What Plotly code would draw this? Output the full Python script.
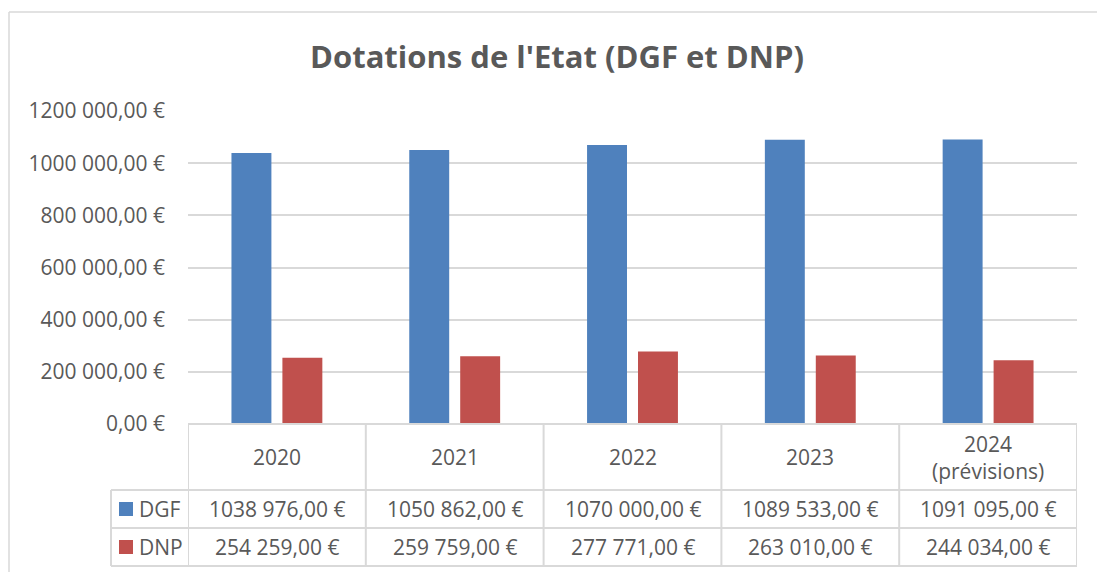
import plotly.graph_objects as go

# ---- data ----
years = ["2020", "2021", "2022", "2023", "2024"]
year_labels = ["2020", "2021", "2022", "2023", "2024<br>(prévisions)"]
series_names = ["DGF", "DNP"]
dgf = [1038976, 1050862, 1070000, 1089533, 1091095]
dnp = [254259, 259759, 277771, 263010, 244034]
y_ticks = [0, 200000, 400000, 600000, 800000, 1000000, 1200000]

# ---- style ----
colors = ["#4F81BD", "#C0504D"]
text_color = "#595959"
line_color = "#D9D9D9"
font_family = "Open Sans, Lato, sans-serif"
lab_size = 21


def fmt_eur(v):
    n = int(round(v))
    cents = int(round((v - n) * 100))
    if n >= 1000:
        s = f"{n // 1000} {n % 1000:03d}"
    else:
        s = str(n)
    return f"{s},{cents:02d} €"


W, H = 1097, 572
L, R, T, B = 188, 20, 111, 148
pw, ph = W - L - R, H - T - B


def px_x(x):  # pixel -> paper x
    return (x - L) / pw


def px_y(y):  # pixel -> paper y
    return (H - B - y) / ph


fig = go.Figure()
for name, vals, col in zip(series_names, [dgf, dnp], colors):
    fig.add_trace(go.Bar(x=years, y=vals, name=name, marker=dict(color=col, line=dict(width=0)),
                         hoverinfo="x+y"))

shapes = []
annotations = []

n = len(years)
row_top = px_y(424)
row1 = px_y(490)
row2 = px_y(528)
row3 = px_y(566)
leg_left = px_x(111)

# table horizontal lines
shapes.append(dict(type="line", xref="paper", yref="paper", x0=0, x1=1, y0=row_top, y1=row_top,
                   line=dict(color=line_color, width=2)))
for yy in [row1, row2, row3]:
    shapes.append(dict(type="line", xref="paper", yref="paper", x0=leg_left, x1=1, y0=yy, y1=yy,
                       line=dict(color=line_color, width=2)))
# table vertical lines
shapes.append(dict(type="line", xref="paper", yref="paper", x0=leg_left, x1=leg_left, y0=row1, y1=row3,
                   line=dict(color=line_color, width=2)))
for i in range(n + 1):
    shapes.append(dict(type="line", xref="x", yref="paper", x0=i - 0.5, x1=i - 0.5, y0=row_top, y1=row3,
                       line=dict(color=line_color, width=2)))

# outer chart border (top and left)
shapes.append(dict(type="line", xref="paper", yref="paper", x0=px_x(9), x1=px_x(1097), y0=px_y(12), y1=px_y(12),
                   line=dict(color=line_color, width=1.5)))
shapes.append(dict(type="line", xref="paper", yref="paper", x0=px_x(9), x1=px_x(9), y0=px_y(12), y1=px_y(572),
                   line=dict(color=line_color, width=1.5)))

# header row (years)
for i, lab in enumerate(year_labels):
    annotations.append(dict(x=(i + 0.5) / n, y=(row_top + row1) / 2, xref="paper", yref="paper", text=lab,
                            showarrow=False, xanchor="center", yanchor="middle",
                            font=dict(size=lab_size, color=text_color, family=font_family)))

# data rows
for r, (name, vals, col) in enumerate(zip(series_names, [dgf, dnp], colors)):
    top = [row1, row2][r]
    bot = [row2, row3][r]
    yc = (top + bot) / 2
    for i, v in enumerate(vals):
        annotations.append(dict(x=(i + 0.5) / n, y=yc, xref="paper", yref="paper", text=fmt_eur(v),
                                showarrow=False, xanchor="center", yanchor="middle",
                                font=dict(size=lab_size, color=text_color, family=font_family)))
    # legend key square
    half = 7 / ph
    shapes.append(dict(type="rect", xref="paper", yref="paper", x0=px_x(119), x1=px_x(133),
                       y0=yc - half, y1=yc + half, fillcolor=col, line=dict(width=0)))
    annotations.append(dict(x=px_x(137), y=yc, xref="paper", yref="paper", text=name, showarrow=False,
                            xanchor="left", yanchor="middle",
                            font=dict(size=lab_size, color=text_color, family=font_family)))

fig.update_layout(
    width=W, height=H, autosize=False,
    margin=dict(l=L, r=R, t=T, b=B, pad=0),
    paper_bgcolor="white", plot_bgcolor="white",
    showlegend=False,
    barmode="group", bargap=0.427, bargroupgap=0.216,
    title=dict(text="<b>Dotations de l'Etat (DGF et DNP)</b>", x=557 / W, xref="container", xanchor="center",
               y=1 - 57 / H, yref="container", yanchor="middle",
               font=dict(size=31, color=text_color, family=font_family)),
    font=dict(family=font_family, color=text_color),
    shapes=shapes, annotations=annotations,
)
fig.update_xaxes(type="category", range=[-0.5, n - 0.5], showticklabels=False, showgrid=False,
                 zeroline=False, showline=False, ticks="")
fig.update_yaxes(range=[0, 1200000], tickvals=y_ticks, ticktext=[fmt_eur(v) for v in y_ticks],
                 showgrid=True, gridcolor=line_color, gridwidth=1.5, zeroline=False, showline=False,
                 ticks="", ticklabelstandoff=22,
                 tickfont=dict(size=lab_size, color=text_color, family=font_family))

fig.write_html("out.html",
               config={"displayModeBar": False},
               post_script="document.body.style.margin='0';document.body.style.padding='0';"
                           "document.documentElement.style.overflow='hidden';")
